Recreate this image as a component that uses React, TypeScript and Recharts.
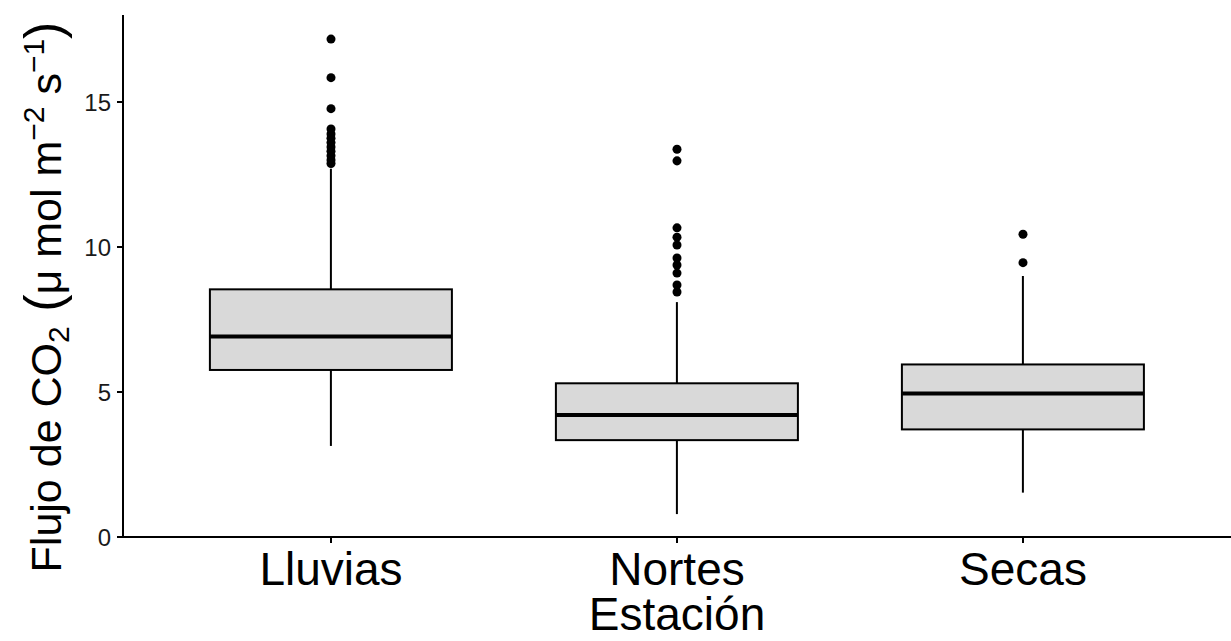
import { ComposedChart, Bar, Scatter, XAxis, YAxis } from "recharts";

// values (µmol m-2 s-1)
const seasons = ["Lluvias", "Nortes", "Secas"];
const whiskerLow = [3.14, 0.79, 1.53];
const q1 = [5.76, 3.34, 3.71];
const median = [6.91, 4.21, 4.95];
const q3 = [8.54, 5.3, 5.95];
const whiskerHigh = [12.7, 8.1, 9.0];

const outliersLluvias = [17.17, 15.84, 14.77, 14.07, 13.9, 13.75, 13.6, 13.45, 13.3, 13.15, 13.0, 12.88];
const outliersNortes = [13.37, 12.97, 10.66, 10.34, 10.07, 9.62, 9.38, 9.1, 8.69, 8.45];
const outliersSecas = [10.44, 9.46];

const yTicks = [0, 5, 10, 15];

const font = "'Liberation Sans', Arial, Helvetica, sans-serif";

const boxData = seasons.map((season, i) => ({
  season,
  low: whiskerLow[i],
  q1: q1[i],
  median: median[i],
  q3: q3[i],
  high: whiskerHigh[i],
}));

const outlierData = [
  ...outliersLluvias.map((v) => ({ season: "Lluvias", flux: v })),
  ...outliersNortes.map((v) => ({ season: "Nortes", flux: v })),
  ...outliersSecas.map((v) => ({ season: "Secas", flux: v })),
];

function BoxShape(props: any) {
  const { x, y, width, height, payload } = props;
  const top = Math.min(y, y + height);
  const h = Math.abs(height);
  const bottom = top + h;
  const ppu = h / (payload.q3 - payload.q1);
  const py = (v: number) => bottom - (v - payload.q1) * ppu;
  const cx = x + width / 2;
  return (
    <g>
      <line x1={cx} x2={cx} y1={py(payload.high)} y2={top} stroke="#000" strokeWidth={2} />
      <line x1={cx} x2={cx} y1={bottom} y2={py(payload.low)} stroke="#000" strokeWidth={2} />
      <rect x={x} y={top} width={width} height={h} fill="#d9d9d9" stroke="#000" strokeWidth={2} />
      <line
        x1={x}
        x2={x + width}
        y1={py(payload.median)}
        y2={py(payload.median)}
        stroke="#000"
        strokeWidth={4}
      />
    </g>
  );
}

const YTitle = () => (
  <text
    transform="translate(61,297) rotate(-90)"
    textAnchor="middle"
    fontSize={43}
    fontFamily={font}
    fill="#000"
  >
    Flujo de CO
    <tspan fontSize={30} dy={8}>2</tspan>
    <tspan dy={-8} fontSize={52}> (</tspan>
    <tspan fontSize={43}>μ mol m</tspan>
    <tspan fontSize={30} dy={-17}>−2</tspan>
    <tspan dy={17}> s</tspan>
    <tspan fontSize={30} dy={-17}>−1</tspan>
    <tspan dy={17} fontSize={52}>)</tspan>
  </text>
);

const XTitle = (props: any) => {
  const vb = props.viewBox || { x: 123, width: 1108 };
  return (
    <text x={vb.x + vb.width / 2} y={630} textAnchor="middle" fontSize={46} fontFamily={font} fill="#000">
      Estación
    </text>
  );
};

export default function App() {
  return (
    <div style={{ position: "absolute", left: 0, top: 0, background: "#fff" }}>
      <ComposedChart
        width={1231}
        height={641}
        data={boxData}
        margin={{ top: 15, right: 0, left: 0, bottom: 0 }}
        barCategoryGap="15%"
        style={{ fontFamily: font }}
      >
        <XAxis
          dataKey="season"
          type="category"
          allowDuplicatedCategory={false}
          padding={{ left: 35, right: 35 }}
          height={104}
          tickSize={6}
          tickMargin={9}
          tick={{ fontSize: 46, fill: "#000", fontFamily: font }}
          axisLine={{ stroke: "#000", strokeWidth: 2 }}
          tickLine={{ stroke: "#000", strokeWidth: 2 }}
          label={<XTitle />}
        />
        <YAxis
          type="number"
          domain={[0, 18]}
          ticks={yTicks}
          width={123}
          tickSize={6}
          tickMargin={6}
          tick={{ fontSize: 24, fill: "#1a1a1a", fontFamily: font }}
          axisLine={{ stroke: "#000", strokeWidth: 2 }}
          tickLine={{ stroke: "#000", strokeWidth: 2 }}
          label={<YTitle />}
        />
        <Bar dataKey={(d: any) => [d.q1, d.q3]} shape={<BoxShape />} isAnimationActive={false} />
        <Scatter data={outlierData} dataKey="flux" fill="#000" isAnimationActive={false} />
      </ComposedChart>
    </div>
  );
}
